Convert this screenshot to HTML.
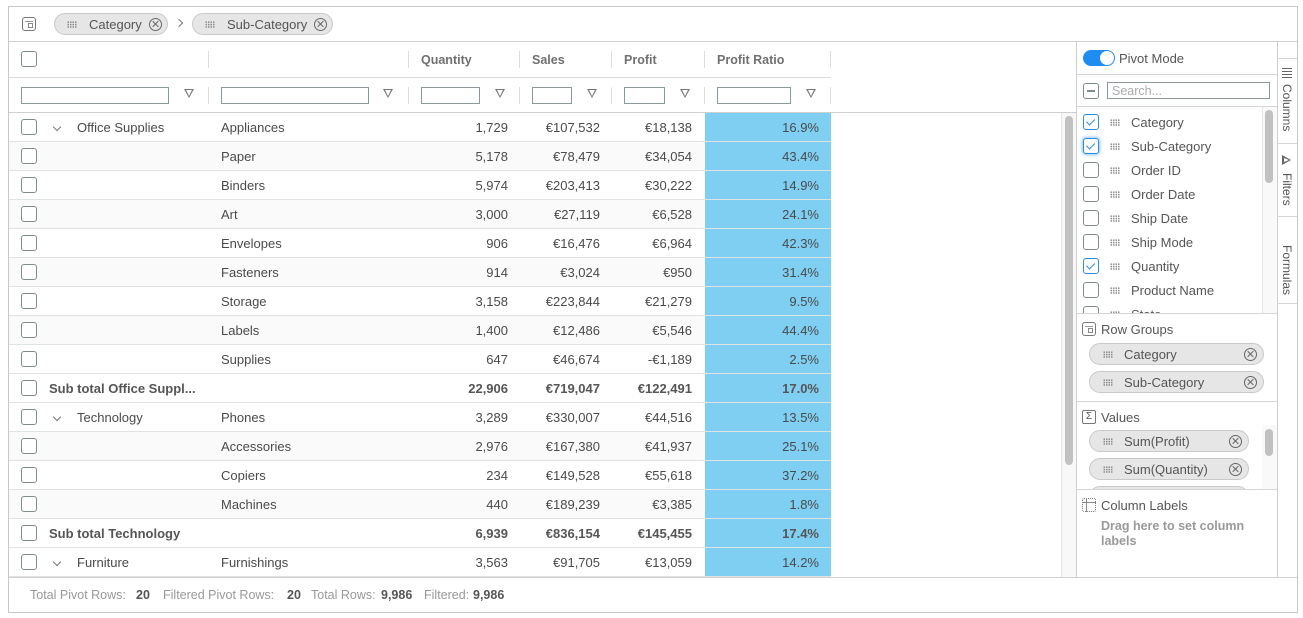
<!DOCTYPE html>
<html><head><meta charset="utf-8"><style>
*{box-sizing:border-box}
body{margin:0;width:1303px;height:618px;background:#fff;font-family:"Liberation Sans",sans-serif;font-size:13px;color:#4a4a4a;position:relative;overflow:hidden}
.a{position:absolute}
.ln{position:absolute;background:#cfcfcf}
.cb{position:absolute;width:16px;height:16px;border:1.5px solid #7f8c8d;border-radius:3px;background:#fff}
.cbk{border-color:#2b8ce6}
.cbk::after{content:"";position:absolute;width:7px;height:4px;border-left:1.5px solid #2b8ce6;border-bottom:1.5px solid #2b8ce6;transform:rotate(-45deg);transform-origin:0 0;top:7px;left:2px}
.grip{position:absolute;width:10px;height:7px;background:radial-gradient(circle,#8a8a8a 0.75px,transparent 1px) 0 0/2.5px 2.4px}
.chip{position:absolute;height:22px;border:1px solid #c9c9c9;border-radius:11px;background:#e6e6e6;color:#555}
.chip span{top:1px}
.x{position:absolute;width:13px;height:13px;border:1.2px solid #666;border-radius:50%}
.x::before,.x::after{content:"";position:absolute;left:5px;top:1.5px;width:1.2px;height:8px;background:#666;transform:rotate(45deg)}
.x::after{transform:rotate(-45deg)}
.r{position:absolute;left:9px;width:822px;height:29px;border-bottom:1px solid #dfe3e3}
.r.o{background:#fafafa}
.r .cb{left:12px;top:6px}
.t{position:absolute;top:1px;line-height:28px;white-space:nowrap}
.n{position:absolute;top:1px;line-height:28px;white-space:nowrap;text-align:right}
.q{right:323px}.s{right:231px}.p{right:139px}.pr{right:12px}
.blue{position:absolute;left:696px;top:0;width:126px;height:28px;background:#7fcff3}
.b{font-weight:bold;color:#555}
.chev{position:absolute;left:45px;top:11px;width:6px;height:6px;border-right:1.2px solid #777;border-bottom:1.2px solid #777;transform:rotate(45deg)}
.hs{position:absolute;width:1px;background:#dcdcdc}
.hd{position:absolute;top:43px;line-height:35px;font-weight:bold;color:#707070;font-size:12.5px}
.inp{position:absolute;top:87px;height:17px;border:1px solid #8a9a9a;background:#fff}
.fi{position:absolute;top:89px;width:0;height:0;border-left:5.5px solid transparent;border-right:5.5px solid transparent;border-top:9px solid #777}
.fi::after{content:"";position:absolute;left:-3.5px;top:-8px;border-left:3.5px solid transparent;border-right:3.5px solid transparent;border-top:6px solid #fff}
.li{position:absolute;left:1077px;width:185px;height:24px}
.li .cb{left:6px;top:4px}
.li .grip{left:33px;top:9px}
.li span{position:absolute;left:54px;top:1px;line-height:24px;color:#555}
.tab{position:absolute;left:1277px;width:20px;writing-mode:vertical-rl;font-size:12px;color:#555;line-height:20px}
.st{position:absolute;top:578px;line-height:35px;font-size:12.5px;color:#999;white-space:nowrap}
.sv{color:#555;font-weight:bold}
</style></head><body>
<!-- outer -->
<div class="a" style="left:8px;top:6px;width:1290px;height:607px;border:1px solid #c8c8c8"></div>
<!-- top bar -->
<div class="a" style="left:22px;top:17px;width:14px;height:14px;border:1.3px solid #777;border-radius:3px"></div>
<div class="a" style="left:25px;top:21px;width:8px;height:1px;background:#999"></div>
<div class="a" style="left:28px;top:23px;width:5px;height:5px;border:1px solid #888"></div>
<div class="chip" style="left:54px;top:13px;width:114px"><div class="grip" style="left:12px;top:7px"></div><span class="a" style="left:34px;line-height:20px">Category</span><div class="x" style="left:94px;top:3.5px"></div></div>
<div class="a" style="left:176px;top:20px;width:6px;height:6px;border-right:1.2px solid #777;border-top:1.2px solid #777;transform:rotate(45deg)"></div>
<div class="chip" style="left:192px;top:13px;width:141px"><div class="grip" style="left:12px;top:7px"></div><span class="a" style="left:34px;line-height:20px">Sub-Category</span><div class="x" style="left:121px;top:3.5px"></div></div>
<div class="ln" style="left:9px;top:41px;width:1288px;height:1px"></div>

<!-- grid header -->
<div class="cb" style="left:21px;top:51px"></div>
<div class="hs" style="left:208px;top:51px;height:17px"></div>
<div class="hs" style="left:408px;top:51px;height:17px"></div>
<div class="hs" style="left:519px;top:51px;height:17px"></div>
<div class="hs" style="left:611px;top:51px;height:17px"></div>
<div class="hs" style="left:704px;top:51px;height:17px"></div>
<div class="hs" style="left:830px;top:51px;height:17px"></div>
<div class="hd" style="left:421px">Quantity</div>
<div class="hd" style="left:532px">Sales</div>
<div class="hd" style="left:624px">Profit</div>
<div class="hd" style="left:717px">Profit Ratio</div>
<div class="ln" style="left:9px;top:77px;width:822px;height:1px;background:#dadada"></div>
<!-- filter row -->
<div class="inp" style="left:21px;width:148px"></div><div class="fi" style="left:184px"></div>
<div class="hs" style="left:208px;top:87px;height:17px"></div>
<div class="inp" style="left:221px;width:148px"></div><div class="fi" style="left:383px"></div>
<div class="hs" style="left:408px;top:87px;height:17px"></div>
<div class="inp" style="left:421px;width:59px"></div><div class="fi" style="left:495px"></div>
<div class="hs" style="left:519px;top:87px;height:17px"></div>
<div class="inp" style="left:532px;width:40px"></div><div class="fi" style="left:587px"></div>
<div class="hs" style="left:611px;top:87px;height:17px"></div>
<div class="inp" style="left:624px;width:41px"></div><div class="fi" style="left:680px"></div>
<div class="hs" style="left:704px;top:87px;height:17px"></div>
<div class="inp" style="left:717px;width:74px"></div><div class="fi" style="left:806px"></div>
<div class="hs" style="left:830px;top:87px;height:17px"></div>
<div class="ln" style="left:9px;top:112px;width:1067px;height:1px"></div>

<!-- rows -->
<div class="r" style="top:113px"><div class="blue"></div><div class="cb"></div><div class="chev"></div><div class="t" style="left:68px">Office Supplies</div><div class="t" style="left:212px">Appliances</div><div class="n q">1,729</div><div class="n s">€107,532</div><div class="n p">€18,138</div><div class="n pr">16.9%</div></div>
<div class="r o" style="top:142px"><div class="blue"></div><div class="cb"></div><div class="t" style="left:212px">Paper</div><div class="n q">5,178</div><div class="n s">€78,479</div><div class="n p">€34,054</div><div class="n pr">43.4%</div></div>
<div class="r" style="top:171px"><div class="blue"></div><div class="cb"></div><div class="t" style="left:212px">Binders</div><div class="n q">5,974</div><div class="n s">€203,413</div><div class="n p">€30,222</div><div class="n pr">14.9%</div></div>
<div class="r o" style="top:200px"><div class="blue"></div><div class="cb"></div><div class="t" style="left:212px">Art</div><div class="n q">3,000</div><div class="n s">€27,119</div><div class="n p">€6,528</div><div class="n pr">24.1%</div></div>
<div class="r" style="top:229px"><div class="blue"></div><div class="cb"></div><div class="t" style="left:212px">Envelopes</div><div class="n q">906</div><div class="n s">€16,476</div><div class="n p">€6,964</div><div class="n pr">42.3%</div></div>
<div class="r o" style="top:258px"><div class="blue"></div><div class="cb"></div><div class="t" style="left:212px">Fasteners</div><div class="n q">914</div><div class="n s">€3,024</div><div class="n p">€950</div><div class="n pr">31.4%</div></div>
<div class="r" style="top:287px"><div class="blue"></div><div class="cb"></div><div class="t" style="left:212px">Storage</div><div class="n q">3,158</div><div class="n s">€223,844</div><div class="n p">€21,279</div><div class="n pr">9.5%</div></div>
<div class="r o" style="top:316px"><div class="blue"></div><div class="cb"></div><div class="t" style="left:212px">Labels</div><div class="n q">1,400</div><div class="n s">€12,486</div><div class="n p">€5,546</div><div class="n pr">44.4%</div></div>
<div class="r" style="top:345px"><div class="blue"></div><div class="cb"></div><div class="t" style="left:212px">Supplies</div><div class="n q">647</div><div class="n s">€46,674</div><div class="n p">-€1,189</div><div class="n pr">2.5%</div></div>
<div class="r" style="top:374px"><div class="blue"></div><div class="cb"></div><div class="t b" style="left:40px">Sub total Office Suppl...</div><div class="n q b">22,906</div><div class="n s b">€719,047</div><div class="n p b">€122,491</div><div class="n pr b">17.0%</div></div>
<div class="r" style="top:403px"><div class="blue"></div><div class="cb"></div><div class="chev"></div><div class="t" style="left:68px">Technology</div><div class="t" style="left:212px">Phones</div><div class="n q">3,289</div><div class="n s">€330,007</div><div class="n p">€44,516</div><div class="n pr">13.5%</div></div>
<div class="r o" style="top:432px"><div class="blue"></div><div class="cb"></div><div class="t" style="left:212px">Accessories</div><div class="n q">2,976</div><div class="n s">€167,380</div><div class="n p">€41,937</div><div class="n pr">25.1%</div></div>
<div class="r" style="top:461px"><div class="blue"></div><div class="cb"></div><div class="t" style="left:212px">Copiers</div><div class="n q">234</div><div class="n s">€149,528</div><div class="n p">€55,618</div><div class="n pr">37.2%</div></div>
<div class="r o" style="top:490px"><div class="blue"></div><div class="cb"></div><div class="t" style="left:212px">Machines</div><div class="n q">440</div><div class="n s">€189,239</div><div class="n p">€3,385</div><div class="n pr">1.8%</div></div>
<div class="r" style="top:519px"><div class="blue"></div><div class="cb"></div><div class="t b" style="left:40px">Sub total Technology</div><div class="n q b">6,939</div><div class="n s b">€836,154</div><div class="n p b">€145,455</div><div class="n pr b">17.4%</div></div>
<div class="r" style="top:548px;height:29px"><div class="blue"></div><div class="cb"></div><div class="chev"></div><div class="t" style="left:68px">Furniture</div><div class="t" style="left:212px">Furnishings</div><div class="n q">3,563</div><div class="n s">€91,705</div><div class="n p">€13,059</div><div class="n pr">14.2%</div></div>

<!-- grid vertical scrollbar -->
<div class="a" style="left:1061px;top:113px;width:15px;height:464px;background:#f8f8f8;border-left:1px solid #e4e4e4"></div>
<div class="a" style="left:1065px;top:116px;width:8px;height:349px;background:#c1c1c1;border-radius:4px"></div>

<!-- side panel -->
<div class="ln" style="left:1076px;top:42px;width:1px;height:535px"></div>
<div class="ln" style="left:1277px;top:42px;width:1px;height:535px"></div>
<div class="a" style="left:1083px;top:50px;width:32px;height:16px;background:#1e8cf0;border-radius:8px"></div>
<div class="a" style="left:1100px;top:51px;width:14px;height:14px;background:#fff;border-radius:50%"></div>
<div class="a" style="left:1119px;top:51px;line-height:16px;color:#555">Pivot Mode</div>
<div class="ln" style="left:1077px;top:74px;width:200px;height:1px;background:#d6d6d6"></div>
<div class="cb" style="left:1083px;top:83px"></div>
<div class="a" style="left:1087px;top:90px;width:8px;height:1.5px;background:#7f8c8d"></div>
<div class="a" style="left:1107px;top:82px;width:163px;height:17px;border:1px solid #8a9a9a;color:#aaa;font-size:12.5px;line-height:16px;padding-left:4px">Search...</div>
<div class="ln" style="left:1077px;top:106px;width:200px;height:1px;background:#d6d6d6"></div>
<div class="a" style="left:1077px;top:107px;width:200px;height:206px;overflow:hidden">
  <div class="li" style="left:0;top:3px"><div class="cb cbk"></div><div class="grip"></div><span>Category</span></div>
  <div class="li" style="left:0;top:27px"><div class="cb cbk" style="box-shadow:0 0 3px 1px #8fc4f5"></div><div class="grip"></div><span>Sub-Category</span></div>
  <div class="li" style="left:0;top:51px"><div class="cb"></div><div class="grip"></div><span>Order ID</span></div>
  <div class="li" style="left:0;top:75px"><div class="cb"></div><div class="grip"></div><span>Order Date</span></div>
  <div class="li" style="left:0;top:99px"><div class="cb"></div><div class="grip"></div><span>Ship Date</span></div>
  <div class="li" style="left:0;top:123px"><div class="cb"></div><div class="grip"></div><span>Ship Mode</span></div>
  <div class="li" style="left:0;top:147px"><div class="cb cbk"></div><div class="grip"></div><span>Quantity</span></div>
  <div class="li" style="left:0;top:171px"><div class="cb"></div><div class="grip"></div><span>Product Name</span></div>
  <div class="li" style="left:0;top:195px"><div class="cb"></div><div class="grip"></div><span>State</span></div>
  <div class="a" style="left:185px;top:0;width:15px;height:206px;background:#f9f9f9;border-left:1px solid #e6e6e6"></div>
  <div class="a" style="left:188px;top:3px;width:8px;height:73px;background:#c1c1c1;border-radius:4px"></div>
</div>
<div class="ln" style="left:1077px;top:313px;width:200px;height:1px;background:#d6d6d6"></div>
<!-- Row groups -->
<div class="a" style="left:1082px;top:322px;width:14px;height:14px;border:1.3px solid #777;border-radius:3px"></div>
<div class="a" style="left:1085px;top:326px;width:8px;height:1px;background:#999"></div>
<div class="a" style="left:1088px;top:328px;width:5px;height:5px;border:1px solid #888"></div>
<div class="a" style="left:1101px;top:322px;line-height:16px;color:#555">Row Groups</div>
<div class="chip" style="left:1089px;top:343px;width:175px"><div class="grip" style="left:13px;top:7px"></div><span class="a" style="left:34px;line-height:20px">Category</span><div class="x" style="left:154px;top:3.5px"></div></div>
<div class="chip" style="left:1089px;top:371px;width:175px"><div class="grip" style="left:13px;top:7px"></div><span class="a" style="left:34px;line-height:20px">Sub-Category</span><div class="x" style="left:154px;top:3.5px"></div></div>
<div class="ln" style="left:1077px;top:401px;width:200px;height:1px;background:#d6d6d6"></div>
<!-- Values -->
<div class="a" style="left:1082px;top:410px;width:14px;height:14px;border:1.2px solid #777;border-radius:2px;font-size:10px;line-height:12px;text-align:center;color:#555">Σ</div>
<div class="a" style="left:1101px;top:410px;line-height:16px;color:#555">Values</div>
<div class="a" style="left:1077px;top:425px;width:200px;height:64px;overflow:hidden">
  <div class="chip" style="left:12px;top:5px;width:160px"><div class="grip" style="left:13px;top:7px"></div><span class="a" style="left:34px;line-height:20px">Sum(Profit)</span><div class="x" style="left:139px;top:3.5px"></div></div>
  <div class="chip" style="left:12px;top:33px;width:160px"><div class="grip" style="left:13px;top:7px"></div><span class="a" style="left:34px;line-height:20px">Sum(Quantity)</span><div class="x" style="left:139px;top:3.5px"></div></div>
  <div class="chip" style="left:12px;top:61px;width:160px"></div>
  <div class="a" style="left:185px;top:0;width:15px;height:64px;background:#f9f9f9"></div>
  <div class="a" style="left:188px;top:4px;width:8px;height:27px;background:#c1c1c1;border-radius:4px"></div>
</div>
<div class="ln" style="left:1077px;top:489px;width:200px;height:1px;background:#d6d6d6"></div>
<!-- Column labels -->
<div class="a" style="left:1082px;top:498px;width:14px;height:14px;border:1.2px dotted #777;border-radius:2px"></div>
<div class="a" style="left:1086px;top:498px;width:1px;height:14px;background:#888"></div>
<div class="a" style="left:1082px;top:502px;width:14px;height:1px;background:#888"></div>
<div class="a" style="left:1101px;top:498px;line-height:16px;color:#555">Column Labels</div>
<div class="a" style="left:1101px;top:519px;width:160px;line-height:15px;color:#999;font-weight:bold;font-size:12.5px">Drag here to set column labels</div>

<!-- side tabs -->
<div class="ln" style="left:1278px;top:58px;width:19px;height:1px;background:#d6d6d6"></div>
<div class="ln" style="left:1278px;top:143px;width:19px;height:1px;background:#d6d6d6"></div>
<div class="ln" style="left:1278px;top:216px;width:19px;height:1px;background:#d6d6d6"></div>
<div class="ln" style="left:1278px;top:303px;width:19px;height:1px;background:#d6d6d6"></div>
<div class="a" style="left:1282px;top:68px;width:10px;height:10px;border-top:1px solid #666;border-bottom:1px solid #666"></div>
<div class="a" style="left:1282px;top:71px;width:10px;height:4px;border-top:1px solid #666;border-bottom:1px solid #666"></div>
<div class="tab" style="top:84px">Columns</div>
<div class="a" style="left:1282px;top:155px;width:0;height:0;border-top:5px solid transparent;border-bottom:5px solid transparent;border-left:9px solid #666"></div>
<div class="a" style="left:1283.5px;top:158px;width:0;height:0;border-top:2.5px solid transparent;border-bottom:2.5px solid transparent;border-left:5px solid #fff"></div>
<div class="tab" style="top:173px">Filters</div>
<div class="tab" style="top:245px">Formulas</div>

<!-- status bar -->
<div class="ln" style="left:9px;top:577px;width:1288px;height:1px"></div>
<div class="st" style="left:30px">Total Pivot Rows:</div><div class="st sv" style="left:136px">20</div>
<div class="st" style="left:163px">Filtered Pivot Rows:</div><div class="st sv" style="left:287px">20</div>
<div class="st" style="left:311px">Total Rows:</div><div class="st sv" style="left:381px">9,986</div>
<div class="st" style="left:424px">Filtered:</div><div class="st sv" style="left:473px">9,986</div>
</body></html>
